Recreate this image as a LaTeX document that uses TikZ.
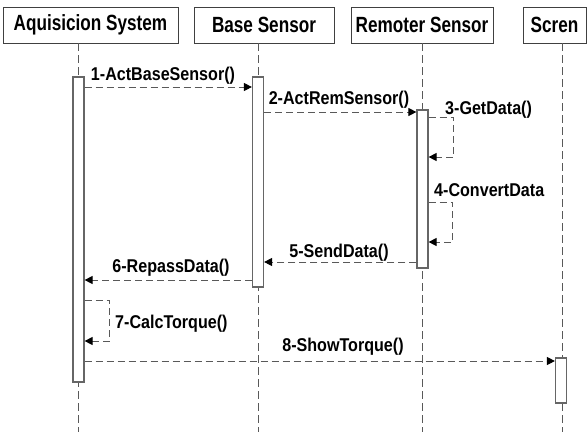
\documentclass[tikz,border=0pt]{standalone}
\usepackage{fontspec}
\setmainfont{Liberation Sans}
\newfontfamily\hdrfont{Liberation Sans}[FakeStretch=0.78]
\newfontfamily\msgfont{Liberation Sans}[FakeStretch=0.87]
\usetikzlibrary{arrows.meta}
\begin{document}
\begin{tikzpicture}[x=1pt,y=-1pt,
 hdr/.style={draw=black!75, line width=0.9pt, rectangle, inner sep=0pt, font=\hdrfont\fontsize{22}{24}\selectfont\bfseries},
 act/.style={draw=black!60, fill=white, line width=1.2pt, rectangle, inner sep=0pt, minimum width=11pt},
 life/.style={draw=black!65, dash pattern=on 8pt off 4pt, line width=1pt},
 msg/.style={draw=black!65, dash pattern=on 7pt off 4pt, line width=1pt, -{Triangle[length=8pt,width=8pt,fill=black,color=black]}},
 lbl/.style={font=\msgfont\fontsize{18.5}{20}\selectfont\bfseries, inner sep=0pt, text=black, anchor=base}]
\useasboundingbox (0,0) rectangle (588,432);
% headers
\node[hdr, minimum width=175pt, minimum height=36pt] (A) at (90.5,25) {Aquisicion System};
\node[hdr, minimum width=140pt, minimum height=36pt] (B) at (264,25) {Base Sensor};
\node[hdr, minimum width=142pt, minimum height=36pt] (C) at (422,25) {Remoter Sensor};
\node[hdr, minimum width=63pt, minimum height=36pt] (D) at (554.5,25) {Scren};
% lifeline x positions
\coordinate (LA) at (78,0);
\coordinate (LB) at (258,0);
\coordinate (LC) at (422,0);
\coordinate (LD) at (562,0);
\coordinate (bot) at (0,432);
\draw[life] (A.south -| LA) -- (LA |- bot);
\draw[life] (B.south -| LB) -- (LB |- bot);
\draw[life] (C.south -| LC) -- (LC |- bot);
\draw[life] (D.south -| LD) -- (LD |- bot);
% activations
\node[act, minimum height=305pt] (aA) at (78.5,229.5) {};
\node[act, minimum height=210pt] (aB) at (258,182) {};
\node[act, minimum height=158pt] (aC) at (422.5,189) {};
\node[act, minimum height=45pt] (aD) at (561,380.5) {};
% message rows
\coordinate (y1) at (0,87);
\coordinate (y2) at (0,112);
\coordinate (y3a) at (0,117);
\coordinate (y3b) at (0,157);
\coordinate (y4a) at (0,202);
\coordinate (y4b) at (0,242);
\coordinate (y5) at (0,262);
\coordinate (y6) at (0,280);
\coordinate (y7a) at (0,300);
\coordinate (y7b) at (0,341);
\coordinate (y8) at (0,361);
% messages
\draw[msg] (aA.east |- y1) -- (aB.west |- y1);
\node[lbl] (l1) at (163,80) {1-ActBaseSensor()};
\draw[msg] (aB.east |- y2) -- (aC.west |- y2);
\node[lbl] (l2) at (339,104) {2-ActRemSensor()};
\draw[msg] (aC.east |- y3a) -- ++(25,0) |- (aC.east |- y3b);
\node[lbl, anchor=base west] (l3) at (445,114) {3-GetData()};
\draw[msg] (aC.east |- y4a) -- ++(24,0) |- (aC.east |- y4b);
\node[lbl, anchor=base west] (l4) at (434,196) {4-ConvertData};
\draw[msg] (aC.west |- y5) -- (aB.east |- y5);
\node[lbl] (l5) at (339,257) {5-SendData()};
\draw[msg] (aB.west |- y6) -- (aA.east |- y6);
\node[lbl] (l6) at (171,272) {6-RepassData()};
\draw[msg] (aA.east |- y7a) -- ++(25,0) |- (aA.east |- y7b);
\node[lbl, anchor=base west] (l7) at (115,328) {7-CalcTorque()};
\draw[msg] (aA.east |- y8) -- (aD.west |- y8);
\node[lbl] (l8) at (343,351) {8-ShowTorque()};
\end{tikzpicture}
\end{document}
